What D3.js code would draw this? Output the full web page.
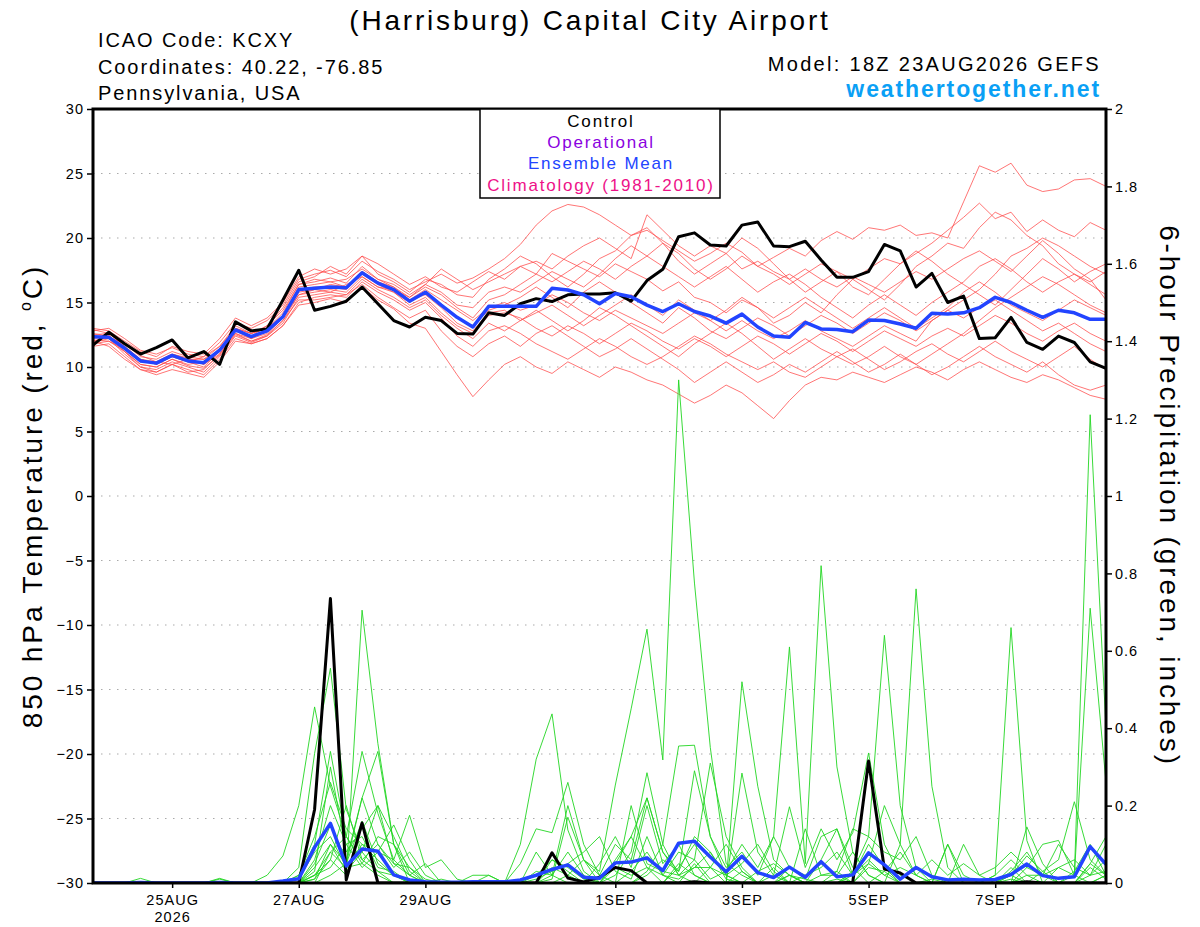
<!DOCTYPE html>
<html>
<head>
<meta charset="utf-8">
<script src="https://cdn.jsdelivr.net/npm/d3@7"></script>
<style>
  body { margin: 0; background: #fff; }
  svg { display: block; font-family: "Liberation Sans", Arial, sans-serif; }
</style>
</head>
<body>
<script>
// forecast run and 6-hourly steps
const runStart = Date.UTC(2026, 7, 23, 18);
const stepHours = 6;

const dateTicks = ['2026-08-25', '2026-08-27', '2026-08-29', '2026-09-01', '2026-09-03', '2026-09-05', '2026-09-07'];
const dateLabels = ['25AUG', '27AUG', '29AUG', '1SEP', '3SEP', '5SEP', '7SEP'];
const tempTicks = [-30, -25, -20, -15, -10, -5, 0, 5, 10, 15, 20, 25, 30];
const precipTicks = [0, 0.2, 0.4, 0.6, 0.8, 1, 1.2, 1.4, 1.6, 1.8, 2];

const legendItems = ['Control', 'Operational', 'Ensemble Mean', 'Climatology (1981-2010)'];
const legendColors = ['#000000', '#8a00e0', '#2244ff', '#ee1188'];

// 850 hPa temperature, control run
const controlTemp = [11.7, 12.7, 11.8, 11.0, 11.5, 12.1, 10.7, 11.2, 10.2, 13.5,
  12.8, 12.95, 15.2, 17.5, 14.4, 14.7, 15.1, 16.2, 14.9, 13.6,
  13.1, 13.85, 13.6, 12.6, 12.55, 14.2, 14.0, 14.9, 15.3, 15.07,
  15.6, 15.66, 15.66, 15.76, 15.1, 16.7, 17.57, 20.1, 20.4, 19.46,
  19.38, 21.0, 21.24, 19.38, 19.33, 19.75, 18.3, 16.95, 16.95, 17.4,
  19.5, 19.0, 16.2, 17.26, 15.0, 15.5, 12.2, 12.27, 13.85, 11.9,
  11.37, 12.4, 11.9, 10.4, 9.9];

// 850 hPa temperature, ensemble mean
const meanTemp = [12.35, 12.3, 11.45, 10.47, 10.3, 10.9, 10.47, 10.33, 11.3, 12.87,
  12.35, 12.8, 13.9, 16.0, 16.1, 16.2, 16.15, 17.3, 16.5, 16.0,
  15.1, 15.8, 14.8, 13.85, 13.1, 14.7, 14.7, 14.7, 14.7, 16.1,
  15.97, 15.6, 14.9, 15.7, 15.45, 14.8, 14.3, 14.9, 14.3, 13.95,
  13.4, 14.1, 13.1, 12.4, 12.3, 13.45, 12.95, 12.9, 12.74, 13.64,
  13.6, 13.33, 13.0, 14.16, 14.1, 14.2, 14.6, 15.4, 15.0, 14.4,
  13.85, 14.4, 14.2, 13.7, 13.7];

// 6-hour precipitation, control run
const controlPrecip = [0, 0, 0, 0, 0, 0, 0, 0, 0, 0,
  0, 0, 0, 0, 0.19, 0.735, 0.008, 0.155, 0, 0,
  0, 0, 0, 0, 0, 0, 0, 0, 0, 0.078,
  0.013, 0.003, 0.015, 0.04, 0.032, 0, 0, 0, 0.003, 0,
  0, 0, 0, 0, 0, 0, 0, 0, 0.002, 0.315,
  0.036, 0.026, 0, 0, 0, 0, 0, 0, 0, 0.003,
  0, 0, 0, 0, 0];

// 6-hour precipitation, ensemble mean
const meanPrecip = [0, 0, 0, 0.001, 0, 0, 0, 0, 0.001, 0,
  0, 0, 0.005, 0.011, 0.092, 0.154, 0.044, 0.088, 0.082, 0.021,
  0.008, 0.003, 0.002, 0.002, 0.003, 0.003, 0.003, 0.008, 0.02, 0.035,
  0.047, 0.015, 0.012, 0.052, 0.054, 0.065, 0.032, 0.103, 0.108, 0.067,
  0.029, 0.069, 0.027, 0.014, 0.041, 0.015, 0.055, 0.016, 0.021, 0.078,
  0.047, 0.01, 0.04, 0.016, 0.008, 0.01, 0.008, 0.009, 0.022, 0.049,
  0.019, 0.012, 0.016, 0.094, 0.048];

// ensemble members, temperature (red)
const memberTemp = [
  [12.8, 13.0, 12.2, 11.3, 11.0, 11.5, 11.0, 10.8, 11.9, 13.4, 13.0, 13.6, 14.8, 16.8, 17.2, 17.5, 17.0, 18.2, 17.4, 16.8, 16.0, 16.6, 17.2, 16.5, 16.9, 17.6, 18.4, 19.5, 21.0, 22.1, 22.6, 22.4, 21.8, 21.0, 20.2, 20.6, 19.8, 19.0, 18.2, 18.8, 19.6, 18.9, 17.8, 18.5, 19.2, 18.6, 19.8, 20.5, 19.9, 20.8, 20.6, 21.0, 20.2, 20.4, 20.0, 22.8, 25.6, 25.1, 25.8, 24.1, 23.6, 23.8, 24.5, 24.6, 24.0],
  [12.0, 11.6, 10.6, 9.8, 9.4, 9.8, 9.5, 9.2, 10.4, 12.0, 11.8, 12.2, 13.2, 14.8, 15.0, 15.3, 15.0, 16.2, 15.2, 14.5, 13.4, 13.0, 11.2, 9.4, 7.7, 9.0, 10.2, 10.8, 10.0, 9.5, 10.4, 9.8, 9.2, 10.0, 9.6, 9.0, 8.6, 7.9, 7.2, 7.8, 8.6, 8.0, 7.0, 6.0, 7.4, 8.6, 9.2, 9.0, 9.6, 9.2, 8.8, 9.4, 10.0, 9.6, 9.0, 9.8, 10.4, 9.8, 9.2, 8.8, 9.4, 9.0, 8.4, 7.8, 7.5],
  [12.5, 12.6, 11.8, 10.8, 10.6, 11.2, 10.8, 10.6, 11.6, 13.2, 12.6, 13.0, 14.2, 16.4, 16.6, 16.9, 16.5, 17.8, 16.8, 16.2, 15.4, 16.2, 15.6, 14.6, 13.8, 15.2, 15.6, 16.4, 17.2, 18.8, 18.2, 17.6, 17.0, 18.0, 17.4, 16.8, 15.9, 16.6, 15.4, 15.0, 14.2, 15.2, 14.6, 13.4, 14.0, 15.0, 14.2, 15.6, 16.8, 16.0, 15.2, 16.4, 17.8, 18.6, 19.6, 19.2, 20.8, 22.0, 21.4, 20.2, 19.4, 18.0, 17.2, 16.6, 17.4],
  [11.8, 12.0, 11.2, 10.2, 10.0, 10.6, 10.1, 9.9, 10.9, 12.5, 12.0, 12.5, 13.6, 15.6, 15.8, 16.0, 15.8, 17.0, 16.2, 15.8, 14.8, 15.4, 14.2, 13.2, 12.6, 14.0, 14.2, 13.8, 13.0, 12.4, 13.2, 12.6, 11.8, 12.6, 13.4, 12.8, 12.0, 11.4, 12.2, 11.6, 10.8, 11.6, 12.4, 11.8, 11.0, 11.8, 12.6, 12.0, 11.2, 12.0, 12.8, 12.2, 11.6, 12.4, 13.0, 12.4, 13.2, 14.0, 13.4, 12.6, 12.0, 12.8, 13.4, 12.6, 12.0],
  [13.0, 12.8, 12.0, 11.2, 10.8, 11.6, 11.2, 11.0, 12.2, 13.8, 13.2, 13.8, 15.0, 17.0, 17.6, 17.2, 17.6, 18.6, 18.0, 17.2, 16.4, 17.0, 16.2, 15.8, 16.6, 17.4, 16.8, 17.8, 18.2, 17.6, 18.6, 19.4, 20.0, 19.2, 18.4, 21.8, 20.6, 19.4, 18.6, 19.4, 18.8, 17.6, 18.2, 17.4, 16.8, 17.6, 16.8, 16.2, 17.0, 16.4, 15.8, 16.6, 17.4, 16.8, 17.6, 18.4, 19.0, 18.2, 17.4, 18.6, 19.8, 18.8, 17.6, 16.8, 15.2],
  [12.2, 12.4, 11.6, 10.6, 10.2, 10.8, 10.4, 10.0, 11.2, 12.8, 12.2, 12.6, 13.8, 15.8, 16.0, 16.4, 16.2, 17.4, 16.6, 16.2, 15.2, 16.0, 15.2, 14.4, 13.6, 14.6, 15.0, 14.4, 14.8, 15.6, 15.0, 14.2, 13.6, 14.4, 13.8, 13.2, 12.6, 13.4, 14.2, 13.6, 12.8, 13.6, 12.8, 12.2, 12.8, 13.6, 12.8, 12.2, 11.6, 12.4, 13.2, 12.6, 12.0, 13.6, 14.4, 15.2, 16.0, 17.2, 18.6, 19.2, 20.0, 19.4, 18.6, 17.8, 17.2],
  [11.6, 11.8, 10.8, 9.8, 9.6, 10.2, 9.8, 9.4, 10.6, 12.2, 11.8, 12.2, 13.2, 15.0, 15.4, 15.6, 15.4, 16.6, 15.8, 15.2, 14.4, 15.0, 13.8, 12.4, 11.6, 12.8, 13.2, 12.6, 11.8, 11.2, 10.6, 11.4, 12.2, 11.6, 10.8, 10.2, 10.8, 11.6, 12.4, 11.8, 11.0, 10.4, 9.8, 10.4, 9.6, 9.2, 10.0, 10.8, 11.4, 10.6, 9.8, 10.4, 11.2, 11.8, 11.0, 10.4, 11.2, 12.0, 11.2, 10.6, 10.0, 10.8, 11.6, 10.6, 9.8],
  [12.6, 12.4, 11.4, 10.4, 10.4, 11.0, 10.6, 10.2, 11.4, 13.0, 12.6, 13.0, 14.0, 16.2, 16.4, 16.6, 16.8, 17.6, 16.8, 16.4, 15.6, 16.4, 15.8, 14.8, 14.6, 15.8, 16.2, 15.8, 16.6, 17.4, 16.8, 16.2, 17.2, 18.4, 19.4, 18.6, 17.8, 17.0, 16.2, 17.0, 17.8, 16.8, 15.8, 16.6, 17.2, 16.4, 15.4, 14.6, 13.8, 14.8, 15.6, 14.8, 14.0, 15.0, 15.8, 16.6, 17.8, 18.4, 17.6, 16.6, 15.8, 16.6, 17.2, 16.4, 15.6],
  [11.9, 12.2, 11.0, 10.0, 9.8, 10.4, 10.0, 9.6, 10.8, 12.4, 11.9, 12.4, 13.4, 15.4, 15.6, 15.8, 15.6, 16.8, 16.0, 15.4, 14.6, 15.2, 14.0, 13.0, 12.2, 13.4, 12.8, 13.6, 14.4, 13.6, 12.8, 13.6, 14.6, 14.0, 13.2, 12.4, 11.6, 10.8, 11.8, 12.6, 13.4, 12.6, 11.6, 10.6, 11.4, 12.2, 11.4, 10.8, 10.2, 10.8, 11.6, 10.8, 10.2, 11.0, 11.8, 12.6, 13.6, 14.6, 15.4, 16.2, 17.0, 16.4, 15.6, 14.8, 14.2],
  [12.4, 12.2, 11.2, 10.2, 10.0, 10.6, 10.2, 10.4, 11.4, 12.9, 12.4, 12.8, 14.0, 16.0, 16.2, 16.2, 16.0, 17.2, 16.4, 15.8, 15.0, 15.8, 14.8, 13.8, 13.2, 14.4, 14.8, 15.4, 16.2, 15.4, 14.6, 15.8, 16.6, 15.8, 15.0, 14.2, 13.4, 14.6, 13.8, 12.8, 12.2, 13.0, 13.8, 13.2, 12.4, 13.2, 14.0, 13.4, 12.6, 13.4, 14.2, 13.6, 12.8, 13.6, 14.4, 13.8, 14.6, 15.2, 14.4, 13.6, 12.8, 13.4, 12.6, 11.8, 11.2],
  [12.1, 12.0, 11.4, 10.6, 10.4, 10.2, 10.6, 10.6, 11.2, 12.6, 12.2, 12.9, 13.8, 15.6, 16.0, 15.8, 16.4, 17.0, 16.2, 16.0, 15.2, 15.6, 14.6, 13.4, 12.8, 14.2, 14.4, 13.6, 14.2, 14.8, 14.0, 13.2, 14.0, 14.8, 15.6, 14.8, 14.0, 15.2, 14.4, 13.6, 14.4, 15.4, 14.6, 13.8, 14.6, 15.4, 14.6, 13.8, 13.0, 13.8, 14.6, 13.8, 13.0, 13.8, 14.6, 15.8, 16.6, 15.8, 14.8, 14.2, 13.6, 14.4, 15.2, 14.6, 14.0],
  [12.9, 12.6, 11.6, 10.6, 10.2, 10.8, 10.4, 10.8, 11.6, 13.0, 12.6, 13.2, 14.4, 16.4, 16.8, 16.6, 16.2, 17.4, 16.6, 16.0, 15.4, 16.4, 17.6, 16.8, 16.0, 16.6, 17.2, 17.8, 17.2, 16.6, 17.4, 18.2, 17.6, 16.8, 17.8, 18.6, 19.6, 18.8, 17.6, 16.8, 17.6, 18.6, 17.8, 17.2, 16.4, 17.2, 18.0, 17.4, 16.8, 17.6, 18.4, 18.0, 18.8, 19.6, 20.6, 21.6, 22.7, 21.5, 22.0, 20.5, 21.4, 20.6, 20.1, 21.2, 20.6],
  [12.3, 12.5, 11.2, 10.0, 9.6, 10.2, 9.6, 9.8, 11.0, 12.6, 12.0, 12.4, 13.6, 15.2, 15.2, 15.4, 15.6, 16.4, 15.4, 14.6, 13.8, 14.4, 12.8, 11.6, 10.8, 11.8, 12.4, 11.6, 12.6, 13.2, 12.4, 11.6, 10.8, 11.4, 12.2, 11.4, 10.6, 9.8, 8.8, 9.6, 10.4, 9.6, 8.8, 9.4, 10.2, 9.6, 10.4, 11.2, 10.4, 9.6, 10.2, 11.0, 10.2, 9.4, 10.0, 10.8, 11.6, 10.8, 10.2, 9.6, 10.4, 9.4, 8.6, 8.2, 8.6],
  [12.0, 12.3, 11.8, 10.9, 10.4, 11.0, 10.7, 10.2, 11.0, 12.8, 12.4, 13.2, 14.6, 16.6, 17.0, 17.8, 17.2, 18.6, 17.2, 16.6, 15.8, 16.8, 16.4, 15.6, 15.4, 16.8, 17.6, 18.6, 18.0, 17.0, 16.2, 17.2, 18.4, 19.0, 20.2, 20.8, 19.6, 18.2, 17.2, 18.0, 18.8, 20.0, 19.2, 18.0, 16.8, 15.8, 16.6, 17.4, 16.2, 15.6, 16.8, 18.0, 19.0, 18.2, 17.2, 16.4, 15.6, 14.8, 16.0, 17.2, 18.4, 17.6, 16.6, 17.4, 18.0]
];

// ensemble members, precipitation (green)
const memberPrecip = [
  [0, 0, 0, 0.012, 0, 0, 0, 0, 0, 0, 0, 0.02, 0.07, 0.2, 0.455, 0.25, 0.12, 0.05, 0.02, 0, 0, 0, 0, 0, 0, 0, 0, 0, 0.02, 0.06, 0.03, 0, 0, 0.05, 0.12, 0.22, 0.08, 0.02, 0, 0.04, 0.1, 0.03, 0, 0, 0.02, 0, 0.06, 0.14, 0.04, 0, 0, 0, 0, 0, 0, 0, 0, 0, 0.03, 0.08, 0.02, 0, 0, 0.05, 0.02],
  [0, 0, 0, 0, 0, 0, 0, 0, 0.01, 0, 0, 0, 0, 0.04, 0.335, 0.555, 0.19, 0.08, 0.03, 0, 0, 0, 0, 0, 0, 0, 0, 0.05, 0.14, 0.13, 0.26, 0.1, 0.02, 0, 0, 0.03, 0.1, 0.354, 0.356, 0.12, 0.02, 0, 0, 0.04, 0, 0, 0, 0, 0.02, 0.1, 0.04, 0, 0, 0, 0, 0, 0, 0, 0, 0, 0, 0, 0.03, 0.1, 0.02],
  [0, 0, 0, 0, 0, 0, 0, 0, 0, 0, 0, 0, 0, 0, 0.02, 0.06, 0.02, 0.705, 0.36, 0.1, 0.02, 0, 0, 0, 0, 0, 0, 0, 0, 0, 0.02, 0.06, 0.03, 0.253, 0.45, 0.656, 0.318, 1.3, 0.775, 0.35, 0.05, 0.02, 0, 0, 0, 0, 0, 0.03, 0, 0, 0, 0, 0, 0, 0, 0, 0, 0, 0.02, 0, 0, 0, 0, 0.04, 0.01],
  [0, 0, 0, 0, 0, 0, 0, 0, 0, 0, 0, 0, 0, 0.02, 0.1, 0.34, 0.12, 0.34, 0.18, 0.06, 0.175, 0.04, 0.06, 0.01, 0, 0, 0, 0, 0, 0, 0, 0, 0, 0.02, 0.08, 0.285, 0.1, 0.02, 0.06, 0.31, 0.12, 0.04, 0, 0.02, 0, 0, 0, 0, 0.03, 0.12, 0.64, 0.2, 0.04, 0, 0, 0, 0, 0, 0, 0.02, 0, 0, 0.02, 0, 0],
  [0, 0, 0, 0, 0, 0, 0, 0, 0, 0, 0, 0, 0, 0, 0.03, 0.3, 0.08, 0.14, 0.2, 0.12, 0.03, 0, 0, 0, 0, 0, 0, 0.1, 0.32, 0.437, 0.137, 0.03, 0, 0, 0, 0, 0, 0.04, 0.1, 0.04, 0, 0.52, 0.25, 0.06, 0.02, 0, 0, 0, 0, 0, 0.03, 0.08, 0.02, 0, 0, 0, 0, 0, 0.01, 0, 0, 0, 0, 0.02, 0.06],
  [0, 0, 0, 0, 0, 0, 0, 0, 0, 0, 0, 0, 0, 0, 0.05, 0.15, 0.06, 0.22, 0.34, 0.1, 0.04, 0, 0, 0, 0, 0, 0, 0, 0, 0.01, 0.17, 0.06, 0.02, 0.1, 0.06, 0.22, 0.08, 0.03, 0.29, 0.12, 0.04, 0.08, 0.02, 0.12, 0.61, 0.05, 0.82, 0.3, 0.08, 0.02, 0, 0, 0, 0, 0, 0, 0, 0, 0, 0, 0, 0, 0, 0, 0.02],
  [0, 0, 0, 0, 0, 0, 0, 0, 0, 0, 0, 0, 0, 0.01, 0.08, 0.12, 0.04, 0.1, 0.08, 0.15, 0.06, 0, 0, 0, 0, 0, 0, 0, 0.03, 0.02, 0, 0, 0.05, 0.12, 0.04, 0.2, 0.05, 0.1, 0.02, 0, 0, 0.284, 0.08, 0.02, 0.197, 0.04, 0.14, 0.06, 0.13, 0.336, 0.1, 0.02, 0, 0, 0, 0, 0, 0, 0, 0.145, 0.05, 0, 0, 0, 0],
  [0, 0, 0, 0, 0, 0, 0, 0, 0, 0, 0, 0, 0, 0, 0, 0.08, 0.12, 0.06, 0.1, 0.04, 0.08, 0.02, 0, 0, 0.02, 0.02, 0, 0, 0, 0, 0, 0, 0, 0, 0, 0.02, 0.06, 0.03, 0.12, 0.08, 0.02, 0, 0, 0, 0.04, 0.01, 0.12, 0.14, 0.02, 0.05, 0.2, 0.1, 0.76, 0.25, 0.04, 0, 0, 0, 0, 0, 0, 0, 0, 0, 0.02],
  [0, 0, 0, 0, 0, 0, 0, 0, 0, 0, 0, 0, 0, 0, 0.04, 0.1, 0.05, 0.16, 0.05, 0.02, 0, 0, 0.01, 0, 0, 0, 0, 0, 0, 0.06, 0.04, 0.01, 0, 0, 0.03, 0.08, 0.02, 0, 0.05, 0, 0, 0.03, 0, 0, 0.02, 0.01, 0, 0.01, 0, 0.05, 0.02, 0, 0, 0, 0.1, 0.02, 0, 0.02, 0.66, 0.11, 0, 0, 0, 0, 0],
  [0, 0, 0, 0, 0, 0, 0, 0, 0, 0, 0, 0, 0, 0, 0.02, 0.04, 0.1, 0.04, 0.08, 0.06, 0.02, 0.05, 0, 0, 0, 0, 0, 0, 0, 0, 0, 0, 0, 0, 0, 0, 0, 0, 0, 0, 0, 0, 0, 0, 0, 0, 0, 0, 0, 0.04, 0.03, 0, 0, 0, 0, 0, 0, 0, 0, 0.04, 0.1, 0.11, 0.02, 1.21, 0.4],
  [0, 0, 0, 0, 0, 0, 0, 0, 0.012, 0, 0, 0, 0, 0, 0.01, 0.06, 0.2, 0.06, 0.03, 0.02, 0, 0, 0, 0, 0, 0.02, 0, 0, 0, 0, 0, 0, 0, 0, 0, 0, 0, 0, 0, 0, 0, 0, 0, 0, 0, 0, 0, 0, 0, 0, 0, 0, 0, 0, 0, 0, 0, 0, 0, 0, 0, 0.04, 0.02, 0.71, 0.26],
  [0, 0, 0, 0, 0, 0, 0, 0, 0, 0, 0, 0, 0, 0, 0.06, 0.2, 0.1, 0.12, 0.04, 0.03, 0, 0, 0, 0, 0, 0, 0, 0, 0, 0.02, 0.08, 0.02, 0, 0.04, 0.02, 0.04, 0, 0.05, 0.02, 0, 0, 0, 0, 0, 0, 0.02, 0.05, 0.02, 0, 0, 0, 0.1, 0.02, 0, 0, 0.1, 0.02, 0, 0.04, 0, 0.03, 0.06, 0.21, 0.06, 0.02],
  [0, 0, 0, 0, 0, 0, 0, 0, 0, 0, 0, 0, 0, 0, 0, 0.02, 0.05, 0.22, 0.1, 0.05, 0.02, 0, 0, 0, 0, 0, 0, 0, 0.08, 0.02, 0.2, 0.06, 0, 0.06, 0.12, 0.04, 0.02, 0.01, 0.04, 0.04, 0.02, 0.05, 0.1, 0.03, 0, 0.14, 0.02, 0.03, 0.14, 0.12, 0.08, 0.06, 0.12, 0.02, 0, 0, 0, 0.02, 0.06, 0.02, 0.02, 0.1, 0.04, 0.02, 0.1],
  [0, 0, 0, 0, 0, 0, 0, 0, 0, 0, 0, 0, 0, 0, 0.01, 0.1, 0.03, 0.08, 0.2, 0.05, 0.04, 0.01, 0, 0, 0, 0, 0, 0, 0.01, 0.03, 0.05, 0.08, 0.12, 0.03, 0.01, 0.12, 0.02, 0.08, 0.06, 0.01, 0.03, 0.1, 0.04, 0.12, 0.04, 0.02, 0.04, 0.08, 0.02, 0.06, 0.02, 0.04, 0.02, 0.06, 0.02, 0.05, 0.02, 0.04, 0.08, 0.04, 0.02, 0.04, 0.06, 0.02, 0.03],
  [0, 0, 0, 0, 0, 0, 0, 0, 0, 0, 0, 0, 0, 0, 0.02, 0.08, 0.04, 0.05, 0.12, 0.1, 0, 0, 0, 0, 0, 0, 0, 0, 0, 0.04, 0.02, 0, 0, 0, 0.2, 0.05, 0.03, 0.02, 0.04, 0.08, 0.01, 0, 0.03, 0.05, 0.02, 0, 0.02, 0.02, 0.08, 0.02, 0, 0, 0, 0.01, 0, 0, 0, 0, 0.02, 0.07, 0.03, 0, 0, 0.05, 0.12],
  [0, 0, 0, 0, 0, 0, 0, 0, 0, 0, 0, 0, 0, 0.02, 0.12, 0.26, 0.14, 0.1, 0.06, 0.02, 0.01, 0, 0, 0, 0, 0, 0, 0, 0, 0, 0, 0, 0, 0, 0, 0, 0, 0, 0, 0, 0, 0, 0, 0, 0, 0, 0, 0, 0, 0, 0, 0, 0, 0, 0.1, 0, 0, 0, 0, 0, 0, 0, 0, 0, 0]
];

const width = 1200;
const height = 927;
const plotLeft = 93, plotRight = 1106, plotTop = 109, plotBottom = 883;

const timeAt = (i) => new Date(runStart + i * stepHours * 3600 * 1000);
const runEnd = timeAt(controlTemp.length - 1);

let svg = d3.select('body')
  .append('svg')
  .attr('width', width)
  .attr('height', height);

let x = d3.scaleUtc()
  .domain([new Date(runStart), runEnd])
  .range([plotLeft, plotRight]);

let yT = d3.scaleLinear()
  .domain([-30, 30])
  .range([plotBottom, plotTop]);

let yP = d3.scaleLinear()
  .domain([0, 2])
  .range([plotBottom, plotTop]);

svg.append('defs').append('clipPath')
  .attr('id', 'plot')
  .append('rect')
  .attr('x', plotLeft)
  .attr('y', plotTop)
  .attr('width', plotRight - plotLeft)
  .attr('height', plotBottom - plotTop);

// dotted grid on the temperature levels
svg.append('g')
  .selectAll('line')
  .data(tempTicks.filter((t) => t > -30 && t < 30))
  .enter()
  .append('line')
  .attr('x1', plotLeft)
  .attr('x2', plotRight)
  .attr('y1', (t) => yT(t))
  .attr('y2', (t) => yT(t))
  .attr('stroke', '#aaaaaa')
  .attr('stroke-width', 1.2)
  .attr('stroke-dasharray', '1.5,6.5');

let tempLine = d3.line()
  .x((d, i) => x(timeAt(i)))
  .y((d) => yT(d));

let precipLine = d3.line()
  .x((d, i) => x(timeAt(i)))
  .y((d) => yP(d));

let lines = svg.append('g').attr('clip-path', 'url(#plot)');

lines.selectAll('.member-t')
  .data(memberTemp)
  .enter()
  .append('path')
  .attr('fill', 'none')
  .attr('stroke', '#ff4a4a')
  .attr('stroke-opacity', 0.85)
  .attr('stroke-width', 0.9)
  .attr('d', tempLine);

lines.selectAll('.member-p')
  .data(memberPrecip)
  .enter()
  .append('path')
  .attr('fill', 'none')
  .attr('stroke', '#22d622')
  .attr('stroke-width', 0.9)
  .attr('d', precipLine);

lines.append('path')
  .datum(controlPrecip)
  .attr('fill', 'none')
  .attr('stroke', '#000')
  .attr('stroke-width', 3)
  .attr('stroke-linejoin', 'round')
  .attr('d', precipLine);

lines.append('path')
  .datum(meanPrecip)
  .attr('fill', 'none')
  .attr('stroke', '#2244ff')
  .attr('stroke-width', 3.5)
  .attr('stroke-linejoin', 'round')
  .attr('d', precipLine);

lines.append('path')
  .datum(controlTemp)
  .attr('fill', 'none')
  .attr('stroke', '#000')
  .attr('stroke-width', 3)
  .attr('stroke-linejoin', 'round')
  .attr('d', tempLine);

lines.append('path')
  .datum(meanTemp)
  .attr('fill', 'none')
  .attr('stroke', '#2244ff')
  .attr('stroke-width', 3.5)
  .attr('stroke-linejoin', 'round')
  .attr('d', tempLine);

// axes
let leftAxis = svg.append('g')
  .attr('transform', `translate(${plotLeft},0)`)
  .call(d3.axisLeft(yT).tickValues(tempTicks).tickSize(6).tickPadding(3));

let rightAxis = svg.append('g')
  .attr('transform', `translate(${plotRight},0)`)
  .call(d3.axisRight(yP).tickValues(precipTicks).tickSize(6).tickPadding(3)
    .tickFormat((d) => String(+d.toFixed(1))));

let parseDay = d3.utcParse('%Y-%m-%d');
let bottomAxis = svg.append('g')
  .attr('transform', `translate(0,${plotBottom})`)
  .call(d3.axisBottom(x).tickValues(dateTicks.map(parseDay)).tickSize(5).tickPadding(5)
    .tickFormat((d, i) => dateLabels[i]));

[leftAxis, rightAxis, bottomAxis].forEach((g) => {
  g.select('.domain').remove();
  g.selectAll('.tick line').attr('stroke', '#000').attr('stroke-width', 1.5);
  g.selectAll('.tick text')
    .attr('fill', '#000')
    .style('font-family', '"Liberation Sans", Arial, sans-serif')
    .style('font-size', '14.5px')
    .style('letter-spacing', '1px');
});

bottomAxis.selectAll('.tick text').attr('dy', '0.85em');

bottomAxis.select('.tick text')
  .append('tspan')
  .attr('x', 0)
  .attr('dy', '1.15em')
  .text('2026');

// frame
svg.append('rect')
  .attr('x', plotLeft)
  .attr('y', plotTop)
  .attr('width', plotRight - plotLeft)
  .attr('height', plotBottom - plotTop)
  .attr('fill', 'none')
  .attr('stroke', '#000')
  .attr('stroke-width', 3);

// legend
let legend = svg.append('g');
legend.append('rect')
  .attr('x', 480)
  .attr('y', plotTop)
  .attr('width', 240)
  .attr('height', 89)
  .attr('fill', '#fff')
  .attr('stroke', '#000')
  .attr('stroke-width', 1.5);

legend.selectAll('text')
  .data(legendItems)
  .enter()
  .append('text')
  .attr('x', 601)
  .attr('y', (d, i) => 127 + i * 21.2)
  .attr('text-anchor', 'middle')
  .attr('font-size', 17)
  .attr('letter-spacing', 1.8)
  .attr('fill', (d, i) => legendColors[i])
  .text((d) => d);

// titles
svg.append('text')
  .attr('x', 590)
  .attr('y', 30)
  .attr('text-anchor', 'middle')
  .attr('font-size', 28)
  .attr('letter-spacing', 2.8)
  .text('(Harrisburg) Capital City Airport');

let info = ['ICAO Code: KCXY', 'Coordinates: 40.22, -76.85', 'Pennsylvania, USA'];
svg.selectAll('.info')
  .data(info)
  .enter()
  .append('text')
  .attr('x', 98)
  .attr('y', (d, i) => 47 + i * 26.5)
  .attr('font-size', 20)
  .attr('letter-spacing', 1.9)
  .text((d) => d);

svg.append('text')
  .attr('x', 1101)
  .attr('y', 71)
  .attr('text-anchor', 'end')
  .attr('font-size', 20)
  .attr('letter-spacing', 2.3)
  .text('Model: 18Z 23AUG2026 GEFS');

svg.append('text')
  .attr('x', 1101)
  .attr('y', 97)
  .attr('text-anchor', 'end')
  .attr('font-size', 23)
  .attr('font-weight', 'bold')
  .attr('letter-spacing', 1.9)
  .attr('fill', '#0aa0f5')
  .text('weathertogether.net');

let yLabel = svg.append('text')
  .attr('transform', 'translate(42,496) rotate(-90)')
  .attr('text-anchor', 'middle')
  .attr('font-size', 28)
  .attr('letter-spacing', 2.9);
yLabel.append('tspan').text('850 hPa Temperature (red, ');
yLabel.append('tspan').attr('font-size', 16).attr('dy', -11).text('o');
yLabel.append('tspan').attr('dy', 11).text('C)');

svg.append('text')
  .attr('transform', 'translate(1160,496) rotate(90)')
  .attr('text-anchor', 'middle')
  .attr('font-size', 28)
  .attr('letter-spacing', 2.9)
  .text('6-hour Precipitation (green, inches)');
</script>
</body>
</html>
